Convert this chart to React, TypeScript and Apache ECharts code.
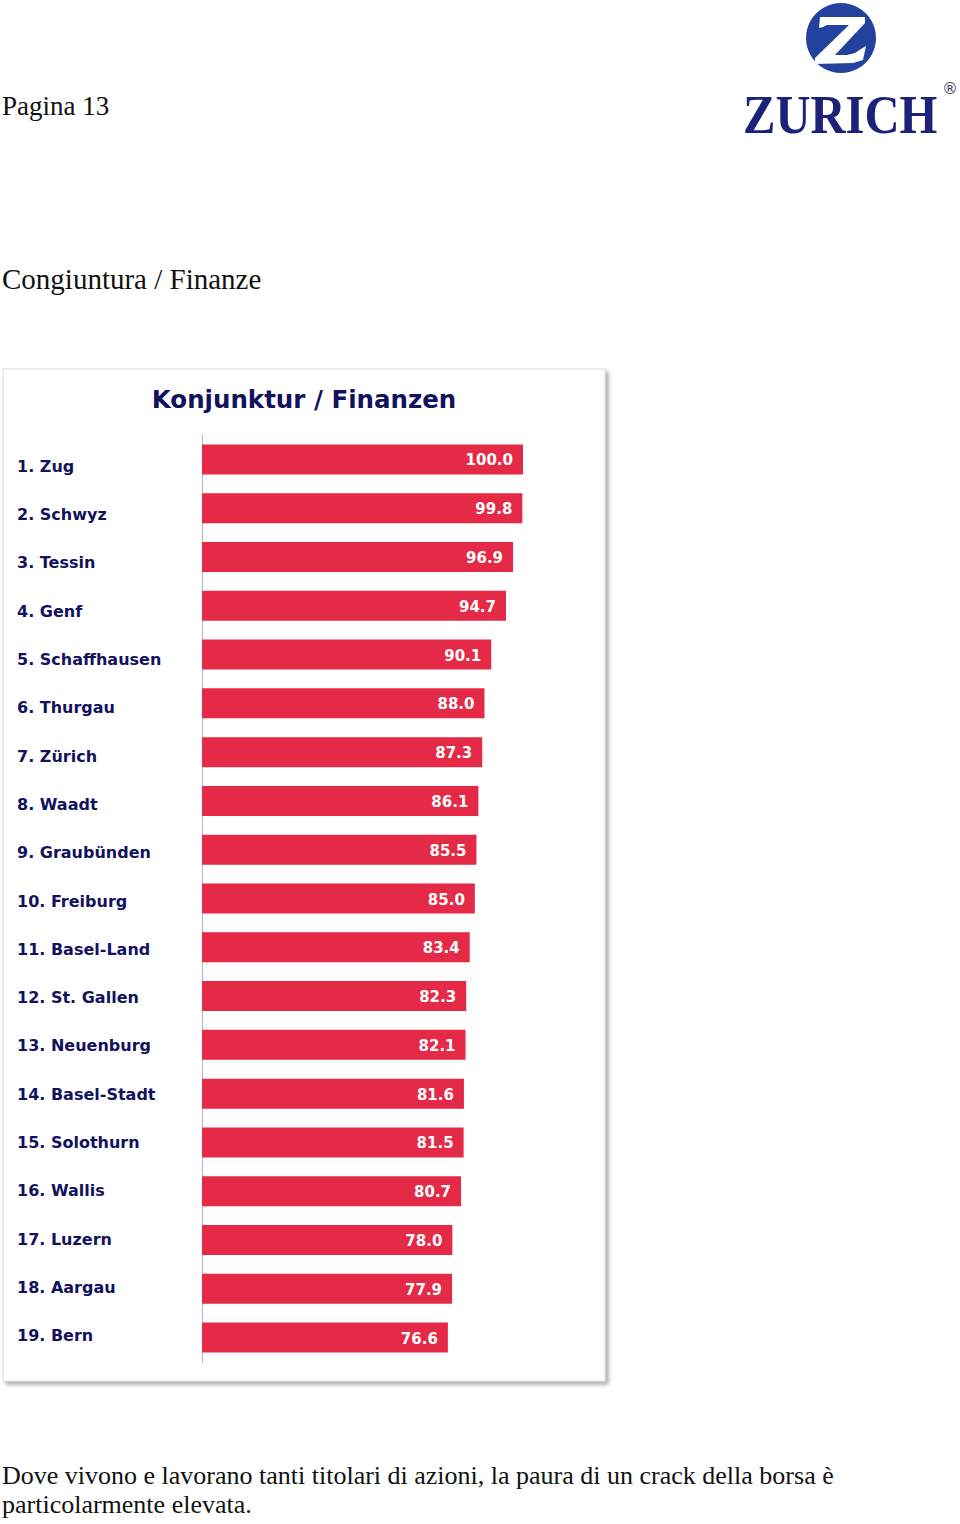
import React, { useEffect, useRef } from "react";
import * as echarts from "echarts";

const cantons = [
  "1. Zug", "2. Schwyz", "3. Tessin", "4. Genf", "5. Schaffhausen", "6. Thurgau",
  "7. Zürich", "8. Waadt", "9. Graubünden", "10. Freiburg", "11. Basel-Land",
  "12. St. Gallen", "13. Neuenburg", "14. Basel-Stadt", "15. Solothurn",
  "16. Wallis", "17. Luzern", "18. Aargau", "19. Bern",
];
const scores = [
  100.0, 99.8, 96.9, 94.7, 90.1, 88.0, 87.3, 86.1, 85.5, 85.0, 83.4, 82.3, 82.1,
  81.6, 81.5, 80.7, 78.0, 77.9, 76.6,
];
const pageLabel = "Pagina 13";
const sectionTitle = "Congiuntura / Finanze";
const chartTitle = "Konjunktur / Finanzen";
const captionLines = [
  "Dove vivono e lavorano tanti titolari di azioni, la paura di un crack della borsa è",
  "particolarmente elevata.",
];

const NAVY = "#12125e";
const RED = "#e42a46";

export default function App() {
  const ref = useRef<HTMLDivElement>(null);

  useEffect(() => {
    if (!ref.current) return;
    const chart = echarts.init(ref.current, null, { renderer: "svg" });
    const zPoints = [
      [-22, -10], [-21, -21], [24, -21], [24, -15], [-6, 17], [6, 17], [14, 15],
      [20, 11], [25, 8], [22, 22], [12, 25], [-26, 26], [-26, 20], [8, -13],
      [-14, -13], [-18, -11],
    ];
    chart.setOption({
      animation: false,
      backgroundColor: "#ffffff",
      grid: [
        { left: 202, top: 435, width: 321, height: 927, containLabel: false },
        { left: 202, top: 442, width: 321, height: 918, containLabel: false },
      ],
      xAxis: [
        { type: "value", min: 0, max: 100, show: false, gridIndex: 0 },
        { type: "value", min: 0, max: 100, show: false, gridIndex: 1 },
      ],
      yAxis: [
        {
          type: "category",
          gridIndex: 0,
          inverse: true,
          data: cantons,
          axisLine: { show: true, lineStyle: { color: "#b8b8b8", width: 1 } },
          axisTick: { show: false },
          splitLine: { show: false },
          axisLabel: { show: false },
        },
        {
          type: "category",
          gridIndex: 1,
          inverse: true,
          data: cantons,
          axisLine: { show: false },
          axisTick: { show: false },
          splitLine: { show: false },
          axisLabel: {
            interval: 0,
            align: "left",
            verticalAlign: "middle",
            margin: 185,
            color: NAVY,
            fontFamily: "DejaVu Sans",
            fontWeight: "bold",
            fontSize: 16,
          },
        },
      ],
      series: [
        {
          type: "bar",
          xAxisIndex: 0,
          yAxisIndex: 0,
          data: scores,
          barWidth: 30,
          itemStyle: { color: RED },
          label: {
            show: true,
            position: "insideRight",
            distance: 10,
            offset: [0, 1],
            color: "#ffffff",
            fontFamily: "DejaVu Sans",
            fontWeight: "bold",
            fontSize: 15,
            formatter: (p: any) => Number(p.value).toFixed(1),
          },
        },
      ],
      graphic: [
        {
          type: "rect",
          z: -1,
          shape: { x: 3, y: 369, width: 602, height: 1012 },
          style: {
            fill: "#ffffff",
            stroke: "#d9d9d9",
            lineWidth: 1,
            shadowBlur: 4,
            shadowOffsetX: 3,
            shadowOffsetY: 3,
            shadowColor: "rgba(0,0,0,0.35)",
          },
        },
        {
          type: "text",
          x: 304,
          y: 399,
          style: {
            text: chartTitle,
            fill: NAVY,
            fontFamily: "DejaVu Sans",
            fontWeight: "bold",
            fontSize: 24.5,
            align: "center",
            verticalAlign: "middle",
          },
        },
        {
          type: "text",
          x: 2,
          y: 106,
          style: {
            text: pageLabel,
            fill: "#111111",
            fontFamily: "Liberation Serif",
            fontSize: 27,
            align: "left",
            verticalAlign: "middle",
          },
        },
        {
          type: "text",
          x: 2,
          y: 279,
          style: {
            text: sectionTitle,
            fill: "#111111",
            fontFamily: "Liberation Serif",
            fontSize: 29,
            align: "left",
            verticalAlign: "middle",
          },
        },
        {
          type: "text",
          x: 2,
          y: 1475,
          style: {
            text: captionLines[0],
            fill: "#111111",
            fontFamily: "Liberation Serif",
            fontSize: 26,
            align: "left",
            verticalAlign: "middle",
          },
        },
        {
          type: "text",
          x: 2,
          y: 1504,
          style: {
            text: captionLines[1],
            fill: "#111111",
            fontFamily: "Liberation Serif",
            fontSize: 26,
            align: "left",
            verticalAlign: "middle",
          },
        },
        {
          type: "circle",
          shape: { cx: 841, cy: 38, r: 35 },
          style: { fill: "#22429e" },
        },
        {
          type: "polygon",
          x: 841,
          y: 38,
          shape: { points: zPoints },
          style: { fill: "#ffffff" },
        },
        {
          type: "text",
          x: 743,
          y: 115,
          scaleX: 0.9,
          style: {
            text: "ZURICH",
            fill: "#1c2278",
            fontFamily: "Liberation Serif",
            fontWeight: "bold",
            fontSize: 54,
            align: "left",
            verticalAlign: "middle",
          },
        },
        {
          type: "text",
          x: 950,
          y: 88,
          style: {
            text: "®",
            fill: "#444466",
            fontFamily: "DejaVu Sans",
            fontSize: 16,
            align: "center",
            verticalAlign: "middle",
          },
        },
      ],
    });
    return () => chart.dispose();
  }, []);

  return (
    <div
      ref={ref}
      style={{ position: "absolute", left: 0, top: 0, width: 960, height: 1524, background: "#fff" }}
    />
  );
}
